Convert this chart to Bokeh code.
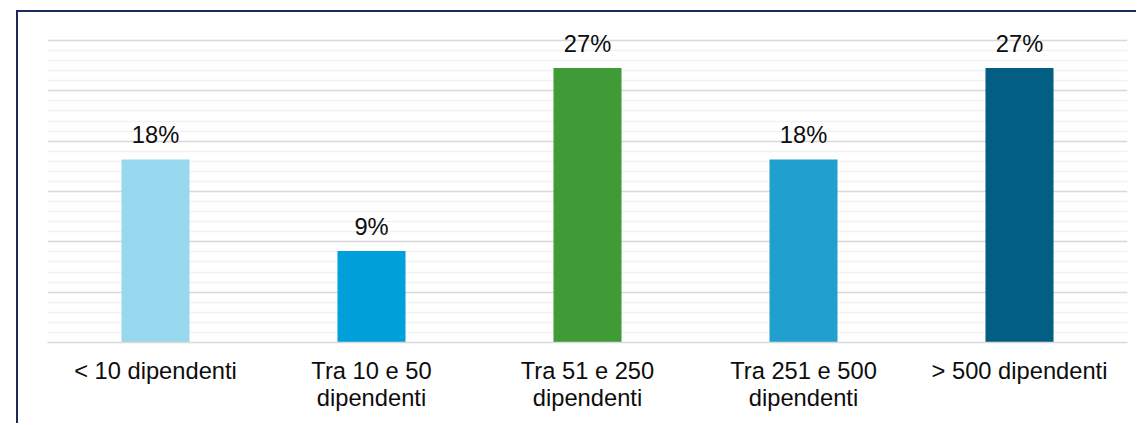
from bokeh.plotting import figure
from bokeh.models import ColumnDataSource, SingleIntervalTicker, LabelSet
from bokeh.core.properties import value
from bokeh.embed import file_html
from bokeh.resources import INLINE

# Quota di aziende per dimensione (numero di dipendenti)
categories = [
    "< 10 dipendenti",
    "Tra 10 e 50\ndipendenti",
    "Tra 51 e 250\ndipendenti",
    "Tra 251 e 500\ndipendenti",
    "> 500 dipendenti",
]
shares = [18.18, 9.09, 27.27, 18.18, 27.27]
bar_colors = ["#97D8EF", "#00A0DB", "#3E9B35", "#21A0D0", "#035E83"]
share_labels = [f"{round(v)}%" for v in shares]

source = ColumnDataSource(dict(cat=categories, share=shares, color=bar_colors, label=share_labels))

FONT = "Liberation Sans"
FONT_SIZE = "23.7px"

# gridded scale runs 0-30 %; a little headroom above it keeps the top labels visible
Y_GRID_MAX = 30
Y_VIEW_MAX = 32.583

p = figure(
    x_range=categories,
    y_range=(0, Y_VIEW_MAX),
    width=1120,
    height=413,
    output_backend="svg",
    toolbar_location=None,
    min_border_left=29,
    min_border_right=11,
    min_border_top=2,
    min_border_bottom=83,
    background_fill_color="white",
    border_fill_color="white",
    outline_line_color=None,
)
# dark frame line along the top and left edge of the chart
p.styles = {
    "margin-left": "16px",
    "margin-top": "10px",
    "border-left": "2px solid #1B2A5C",
    "border-top": "2px solid #1B2A5C",
}
p.x_range.range_padding = 0

p.vbar(x="cat", top="share", width=0.315, color="color", line_color=None, source=source)

p.add_layout(LabelSet(
    x="cat", y="share", text="label", source=source,
    text_align="center", text_baseline="alphabetic", y_offset=16,
    text_font=value(FONT), text_font_size=value(FONT_SIZE), text_color="#0D0D0D",
))

# y grid: major every 5%, minor every 1%, no visible y axis
p.yaxis.ticker = SingleIntervalTicker(interval=5, num_minor_ticks=5)
p.yaxis.visible = False
p.ygrid.bounds = (0, Y_GRID_MAX)
p.ygrid.grid_line_color = "#D9D9D9"
p.ygrid.grid_line_width = 1.5
p.ygrid.minor_grid_line_color = "#F1F1F1"
p.ygrid.minor_grid_line_width = 1.5
p.xgrid.grid_line_color = None

p.xaxis.axis_line_color = "#D9D9D9"
p.xaxis.axis_line_width = 1.5
p.xaxis.major_tick_line_color = None
p.xaxis.minor_tick_line_color = None
p.xaxis.major_label_standoff = 9
p.xaxis.major_label_text_font = FONT
p.xaxis.major_label_text_font_size = FONT_SIZE
p.xaxis.major_label_text_line_height = 1.05
p.xaxis.major_label_text_color = "#0D0D0D"

open("out.html", "w").write(file_html(p, INLINE))
